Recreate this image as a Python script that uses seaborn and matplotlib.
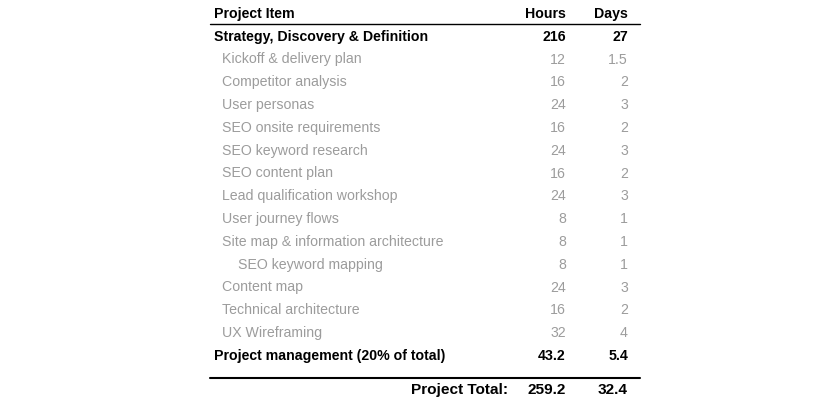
import matplotlib.pyplot as plt
import seaborn as sns

sns.set_theme(style="white")
plt.rcParams['font.family'] = ['Liberation Sans', 'DejaVu Sans']

# Table data
items = [
    "Strategy, Discovery & Definition",
    "Kickoff & delivery plan",
    "Competitor analysis",
    "User personas",
    "SEO onsite requirements",
    "SEO keyword research",
    "SEO content plan",
    "Lead qualification workshop",
    "User journey flows",
    "Site map & information architecture",
    "SEO keyword mapping",
    "Content map",
    "Technical architecture",
    "UX Wireframing",
    "Project management (20% of total)",
]
hours = ["216", "12", "16", "24", "16", "24", "16", "24", "8", "8", "8", "24", "16", "32", "43.2"]
days = ["27", "1.5", "2", "3", "2", "3", "2", "3", "1", "1", "1", "3", "2", "4", "5.4"]
levels = [0, 1, 1, 1, 1, 1, 1, 1, 1, 1, 2, 1, 1, 1, 0]
total_label = "Project Total:"
total_hours = "259.2"
total_days = "32.4"

fig = plt.figure(figsize=(8.4, 4.0), dpi=100)
ax = fig.add_axes([0, 0, 1, 1])
ax.set_xlim(0, 840)
ax.set_ylim(400, 0)
ax.axis('off')

fs = 10.15
x_item = {0: 214, 1: 222, 2: 238}
x_hours = 566
x_days = 628
row0 = 36.7
step = 22.8

# header
ax.text(214, 14, "Project Item", fontsize=fs, fontweight='bold', va='center', color='black')
ax.text(x_hours, 14, "Hours", fontsize=fs, fontweight='bold', va='center', ha='right', color='black')
ax.text(x_days, 14, "Days", fontsize=fs, fontweight='bold', va='center', ha='right', color='black')
ax.plot([210, 640], [24, 24], color='black', lw=1.0)

for i, (name, h, d, lvl) in enumerate(zip(items, hours, days, levels)):
    y = row0 + i * step
    if lvl == 0:
        kw = dict(fontweight='bold', color='black')
    else:
        kw = dict(fontweight='normal', color='#9c9c9c')
    ax.text(x_item[lvl], y, name, fontsize=fs, va='center', **kw)
    ax.text(x_hours, y, h, fontsize=fs, va='center', ha='right', **kw)
    ax.text(x_days, y, d, fontsize=fs, va='center', ha='right', **kw)

# total row
ax.plot([210, 640], [378, 378], color='black', lw=1.5)
ax.text(508, 390, total_label, fontsize=11.1, fontweight='bold', va='center', ha='right', color='black')
ax.text(566, 390, total_hours, fontsize=11.1, fontweight='bold', va='center', ha='right', color='black')
ax.text(628, 390, total_days, fontsize=11.1, fontweight='bold', va='center', ha='right', color='black')

plt.savefig('out.png', dpi=100)
